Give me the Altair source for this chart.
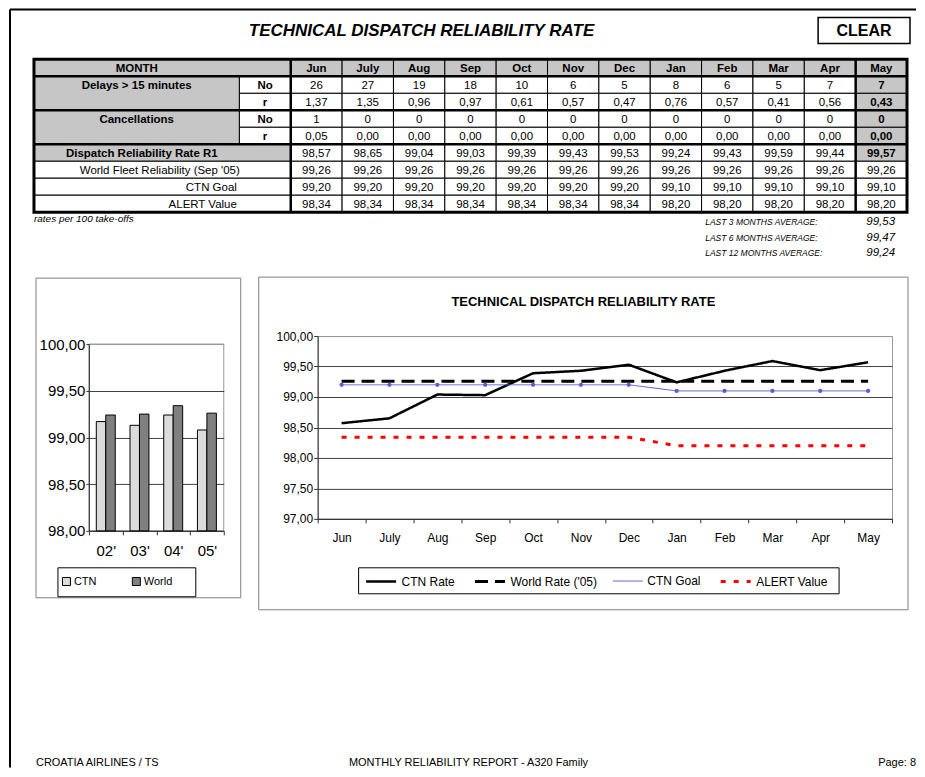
import altair as alt
import pandas as pd

# ---------------- data ----------------
months = ["Jun", "July", "Aug", "Sep", "Oct", "Nov", "Dec", "Jan", "Feb", "Mar", "Apr", "May"]
delays_no = [26, 27, 19, 18, 10, 6, 5, 8, 6, 5, 7, 7]
delays_r = [1.37, 1.35, 0.96, 0.97, 0.61, 0.57, 0.47, 0.76, 0.57, 0.41, 0.56, 0.43]
canc_no = [1, 0, 0, 0, 0, 0, 0, 0, 0, 0, 0, 0]
canc_r = [0.05, 0.00, 0.00, 0.00, 0.00, 0.00, 0.00, 0.00, 0.00, 0.00, 0.00, 0.00]
drr = [98.57, 98.65, 99.04, 99.03, 99.39, 99.43, 99.53, 99.24, 99.43, 99.59, 99.44, 99.57]
world = [99.26, 99.26, 99.26, 99.26, 99.26, 99.26, 99.26, 99.26, 99.26, 99.26, 99.26, 99.26]
goal = [99.20, 99.20, 99.20, 99.20, 99.20, 99.20, 99.20, 99.10, 99.10, 99.10, 99.10, 99.10]
alert = [98.34, 98.34, 98.34, 98.34, 98.34, 98.34, 98.34, 98.20, 98.20, 98.20, 98.20, 98.20]

avg_labels = ["LAST 3 MONTHS AVERAGE:", "LAST 6 MONTHS AVERAGE:", "LAST 12 MONTHS AVERAGE:"]
avg_values = ["99,53", "99,47", "99,24"]

years = ["02'", "03'", "04'", "05'"]
ctn_year = [99.17, 99.13, 99.24, 99.08]
world_year = [99.24, 99.25, 99.34, 99.26]

series_names = ["CTN Rate", "World Rate ('05)", "CTN Goal", "ALERT Value"]

FONT = "Liberation Sans"
GRAY = "#c6c6c6"
TS = 11.5  # table font size


def fmt(v):
    return f"{v:.2f}".replace(".", ",")


one = pd.DataFrame({"k": [0]})


def label(text, x, y, size, weight="normal", style="normal", align="left", font=FONT):
    return alt.Chart(pd.DataFrame({"t": [text]})).mark_text(
        align=align, baseline="middle", fontSize=size, fontWeight=weight,
        fontStyle=style, font=font, color="black"
    ).encode(x=alt.value(x), y=alt.value(y), text="t:N")


def frame(x0, x1, y0, y1, color, sw=1.0):
    return alt.Chart(one).mark_rect(fillOpacity=0, stroke=color, strokeWidth=sw).encode(
        x=alt.value(x0), x2=alt.value(x1), y=alt.value(y0), y2=alt.value(y1))


# ---------------- table ----------------
cells = []
texts = {"bc": [], "nc": [], "nr": []}


def cell(x0, x1, y0, y1, fill):
    cells.append(dict(x0=x0, x1=x1, y0=y0, y1=y1, fill=fill))


def tx(kind, x, y, t):
    texts[kind].append(dict(tx=x, ty=y, t=t))


cell(0, 5, 0, 1, GRAY)
tx("bc", 2, 0.5, "MONTH")
for i, m in enumerate(months):
    cell(5 + i, 6 + i, 0, 1, GRAY)
    tx("bc", 5.5 + i, 0.5, m)

for name, r0, nos, rs in [("Delays > 15 minutes", 1, delays_no, delays_r),
                          ("Cancellations", 3, canc_no, canc_r)]:
    cell(0, 4, r0, r0 + 2, GRAY)
    tx("bc", 2, r0 + 0.5, name)
    cell(4, 5, r0, r0 + 1, "white")
    tx("bc", 4.5, r0 + 0.5, "No")
    cell(4, 5, r0 + 1, r0 + 2, "white")
    tx("bc", 4.5, r0 + 1.5, "r")
    for i in range(12):
        last = i == 11
        for k, v in enumerate([str(nos[i]), fmt(rs[i])]):
            cell(5 + i, 6 + i, r0 + k, r0 + k + 1, GRAY if last else "white")
            tx("bc" if last else "nc", 5.5 + i, r0 + k + 0.5, v)

cell(0, 5, 5, 6, GRAY)
tx("bc", 2.1, 5.5, "Dispatch Reliability Rate R1")
for i in range(12):
    last = i == 11
    cell(5 + i, 6 + i, 5, 6, GRAY if last else "white")
    tx("bc" if last else "nc", 5.5 + i, 5.5, fmt(drr[i]))

for j, (name, vals, kind, xpos) in enumerate([
        ("World Fleet Reliability (Sep '05)", world, "nc", 2.45),
        ("CTN Goal", goal, "nr", 3.95),
        ("ALERT Value", alert, "nr", 3.95)]):
    r = 6 + j
    cell(0, 5, r, r + 1, "white")
    tx(kind, xpos, r + 0.5, name)
    for i in range(12):
        cell(5 + i, 6 + i, r, r + 1, "white")
        tx("nc", 5.5 + i, r + 0.5, fmt(vals[i]))

xs = alt.Scale(domain=[0, 17], range=[25, 899], nice=False, zero=False)
ys = alt.Scale(domain=[0, 9], range=[51, 204], nice=False, zero=False)

cell_layer = alt.Chart(pd.DataFrame(cells)).mark_rect(stroke="black", strokeWidth=1).encode(
    x=alt.X("x0:Q", scale=xs, axis=None), x2="x1:Q",
    y=alt.Y("y0:Q", scale=ys, axis=None), y2="y1:Q",
    fill=alt.Fill("fill:N", scale=None))

thick = pd.DataFrame([
    dict(x0=0, x1=17, y0=1, y1=1), dict(x0=0, x1=17, y0=3, y1=3),
    dict(x0=0, x1=17, y0=5, y1=5), dict(x0=5, x1=5, y0=0, y1=9),
    dict(x0=16, x1=16, y0=0, y1=9)])
thick_layer = alt.Chart(thick).mark_rule(color="black", strokeWidth=2.5).encode(
    x=alt.X("x0:Q", scale=xs, axis=None), x2="x1:Q",
    y=alt.Y("y0:Q", scale=ys, axis=None), y2="y1:Q")

outer = alt.Chart(pd.DataFrame([dict(x0=0, x1=17, y0=0, y1=9)])).mark_rect(
    fillOpacity=0, stroke="black", strokeWidth=3).encode(
    x=alt.X("x0:Q", scale=xs, axis=None), x2="x1:Q",
    y=alt.Y("y0:Q", scale=ys, axis=None), y2="y1:Q")


def tlayer(kind, weight, align):
    return alt.Chart(pd.DataFrame(texts[kind])).mark_text(
        font=FONT, fontSize=TS, fontWeight=weight, align=align,
        baseline="middle", dy=1, color="black").encode(
        x=alt.X("tx:Q", scale=xs, axis=None), y=alt.Y("ty:Q", scale=ys, axis=None), text="t:N")


top_layers = [
    cell_layer, thick_layer, outer,
    tlayer("bc", "bold", "center"), tlayer("nc", "normal", "center"), tlayer("nr", "normal", "right"),
    alt.Chart(one).mark_rule(color="black", strokeWidth=2).encode(
        x=alt.value(1), x2=alt.value(908), y=alt.value(1)),
    alt.Chart(one).mark_rule(color="black", strokeWidth=2).encode(
        x=alt.value(1), y=alt.value(1), y2=alt.value(760)),
    label("TECHNICAL DISPATCH RELIABILITY RATE", 413, 23, 17, "bold", "italic", "center"),
    frame(810, 902, 9, 35, "black", 1.5),
    label("CLEAR", 856, 23, 16, "bold", "normal", "center"),
    label("rates per 100 take-offs", 25, 211, 10, "normal", "italic", "left"),
    frame(27, 232, 270, 590, "#808080"),
    frame(250, 900, 269, 602, "#808080"),
    frame(80, 215, 336, 523, "#999999"),
    frame(49, 187, 560, 589, "black"),
    frame(350, 831, 560, 586, "black"),
    label("TECHNICAL DISPATCH RELIABILITY RATE", 575, 294, 13, "bold", "normal", "center"),
    label("CROATIA AIRLINES / TS", 27, 755, 11),
    label("MONTHLY RELIABILITY REPORT - A320 Family", 460, 755, 11, align="center"),
    label("Page: 8", 908, 755, 11, align="right"),
]
for k, (lab, val) in enumerate(zip(avg_labels, avg_values)):
    yy = 214 + k * 15.5
    top_layers.append(label(lab, 697, yy, 8.5, "normal", "italic", "left"))
    top_layers.append(label(val, 887, yy, 11.5, "normal", "italic", "right"))

top = alt.layer(*top_layers).properties(width=909, height=328)

# ---------------- bar chart ----------------
bar_rows = []
for i, yv in enumerate(years):
    bar_rows.append(dict(year=yv, series="CTN", value=ctn_year[i]))
    bar_rows.append(dict(year=yv, series="World", value=world_year[i]))
bar_df = pd.DataFrame(bar_rows)

comma = "replace(format(datum.value, '.2f'), '.', ',')"
grid_cond = {"condition": {"test": "datum.value == 100", "value": "#999999"}, "value": "#404040"}

bar = alt.Chart(bar_df).mark_bar(stroke="black", strokeWidth=1).encode(
    x=alt.X("year:N", sort=years, scale=alt.Scale(paddingInner=0, paddingOuter=0),
            axis=alt.Axis(title=None, labelAngle=0, tickBand="extent", labelFontSize=15,
                          tickSize=4, labelPadding=9, tickColor="#333333", domainColor="#333333")),
    xOffset=alt.XOffset("series:N", sort=["CTN", "World"],
                        scale=alt.Scale(paddingInner=0, paddingOuter=0.78)),
    y=alt.Y("value:Q", scale=alt.Scale(domain=[98, 100], range=[195, 8], nice=False, zero=False),
            axis=alt.Axis(title=None, values=[98, 98.5, 99, 99.5, 100], labelExpr=comma,
                          labelFontSize=15, tickSize=3, labelPadding=1, grid=True,
                          gridColor=grid_cond, tickColor="#333333", domainColor="#333333")),
    y2=alt.datum(98),
    fill=alt.Fill("series:N", scale=alt.Scale(domain=["CTN", "World"], range=["#dcdcdc", "#808080"]),
                  legend=alt.Legend(orient="none", legendX=52, legendY=568, direction="horizontal",
                                    title=None, symbolType="square", symbolSize=64,
                                    symbolStrokeColor="black", symbolStrokeWidth=1,
                                    labelFontSize=11, columnPadding=33, labelOffset=2, padding=0)),
).properties(width=135, height=195)

# ---------------- line chart ----------------
line_rows = []
for name, vals in zip(series_names, [drr, world, goal, alert]):
    for i, m in enumerate(months):
        line_rows.append(dict(month=m, idx=i, series=name, value=vals[i]))
line_df = pd.DataFrame(line_rows)
goal_df = line_df[line_df["series"] == "CTN Goal"]

xenc = alt.X("month:N", sort=months, bandPosition=0.5,
             scale=alt.Scale(type="band", paddingInner=0, paddingOuter=0),
             axis=alt.Axis(title=None, labelAngle=0, tickBand="extent", labelFontSize=12,
                           tickSize=4, labelPadding=10, tickColor="#333333", domainColor="#333333"))
yenc = alt.Y("value:Q", scale=alt.Scale(domain=[97, 100], nice=False, zero=False),
             axis=alt.Axis(title=None, values=[97, 97.5, 98, 98.5, 99, 99.5, 100], labelExpr=comma,
                           labelFontSize=12, tickSize=4, labelPadding=1, grid=True,
                           gridColor=grid_cond, tickColor="#333333", domainColor="#333333"))

leg = alt.Legend(orient="none", legendX=356, legendY=557, direction="horizontal", title=None,
                 symbolType="stroke", symbolSize=900, labelFontSize=12, labelOffset=4,
                 columnPadding=13, padding=0)

lines = alt.Chart(line_df).mark_line().encode(
    x=xenc, y=yenc, order=alt.Order("idx:Q"),
    color=alt.Color("series:N", scale=alt.Scale(domain=series_names,
                                                 range=["black", "black", "#5b5bd9", "#ff0000"]),
                    legend=leg),
    strokeDash=alt.StrokeDash("series:N", scale=alt.Scale(domain=series_names,
                                                           range=[[1, 0], [13, 7], [1, 0], [5, 8]]),
                              legend=leg),
    strokeWidth=alt.StrokeWidth("series:N", scale=alt.Scale(type="ordinal", domain=series_names,
                                                             range=[2.5, 3, 1, 3]),
                                legend=leg),
)
pts = alt.Chart(goal_df).mark_point(filled=True, size=18, color="#5b5bd9", opacity=1).encode(x=xenc, y=yenc)

line_chart = alt.layer(lines, pts).properties(
    width=575, height=183, view=alt.ViewBackground(stroke="#999999", strokeWidth=1))


def spacer(w, h):
    return alt.Chart(one).mark_point(opacity=0, size=1).encode(
        x=alt.value(0), y=alt.value(0)).properties(width=w, height=h)


row2 = alt.hconcat(spacer(80, 1), bar, spacer(94, 1), line_chart, spacing=0, bounds="flush")

chart = alt.vconcat(top, row2, spacing=0, bounds="flush").properties(
    padding=0, background="white"
).configure_view(strokeWidth=0).configure_axis(
    labelFont=FONT, labelColor="black"
).configure_legend(labelFont=FONT, labelColor="black")

chart.save("out.html", embed_options={"renderer": "svg", "actions": False})
